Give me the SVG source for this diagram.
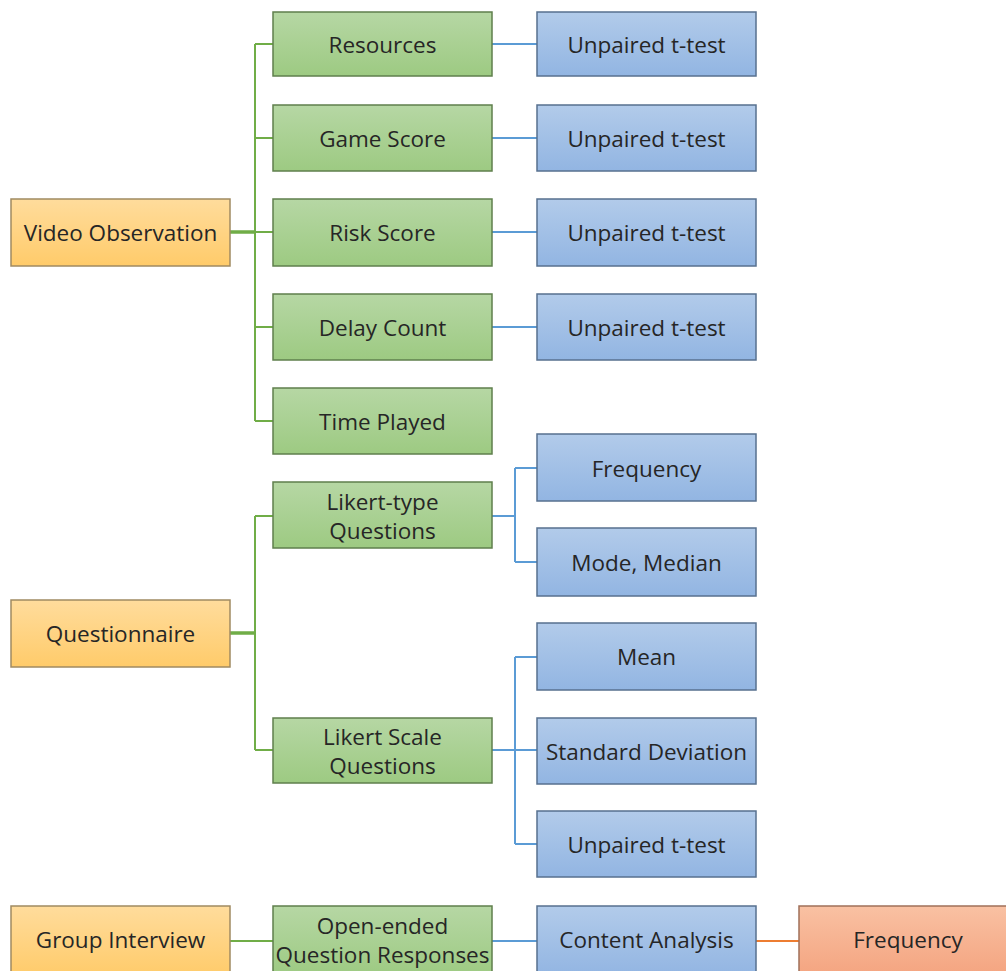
<svg xmlns="http://www.w3.org/2000/svg" width="1006" height="971" viewBox="0 0 1006 971">
<defs>
<linearGradient id="gO" x1="0" y1="0" x2="0" y2="1"><stop offset="0" stop-color="#ffdc9c"/><stop offset="1" stop-color="#ffcb6a"/></linearGradient>
<linearGradient id="gG" x1="0" y1="0" x2="0" y2="1"><stop offset="0" stop-color="#b6d7a4"/><stop offset="1" stop-color="#9dca82"/></linearGradient>
<linearGradient id="gB" x1="0" y1="0" x2="0" y2="1"><stop offset="0" stop-color="#b2cbea"/><stop offset="1" stop-color="#92b5e2"/></linearGradient>
<linearGradient id="gR" x1="0" y1="0" x2="0" y2="1"><stop offset="0" stop-color="#f9c1a3"/><stop offset="1" stop-color="#f4a480"/></linearGradient>
</defs>
<style>
.o{fill:url(#gO);stroke:#a08a62;stroke-width:1.5}
.g{fill:url(#gG);stroke:#5f7f4c;stroke-width:1.5}
.b{fill:url(#gB);stroke:#57708f;stroke-width:1.5}
.r{fill:url(#gR);stroke:#a0705a;stroke-width:1.5}
text{font-family:"Open Sans","Noto Sans",sans-serif;font-size:22.5px;fill:#262626;text-anchor:middle;dominant-baseline:central}
.lg{stroke:#70ad47;stroke-width:2;fill:none}
.lgt{stroke:#70ad47;stroke-width:3.5;fill:none}
.lb{stroke:#5b9bd5;stroke-width:2;fill:none}
.lo{stroke:#ed7d31;stroke-width:2;fill:none}
</style>
<rect width="1006" height="971" fill="#fff"/>
<g id="connectors">
<path class="lgt" d="M230 232H255M230 633H255"/>
<path class="lg" d="M255 44V421M255 44H273M255 138H273M255 232H273M255 327H273M255 421H273"/>
<path class="lg" d="M255 516V750M255 516H273M255 750H273"/>
<path class="lg" d="M230 941H273"/>
<path class="lb" d="M492 44H537M492 138H537M492 232H537M492 327H537"/>
<path class="lb" d="M492 516H515M515 468V562M515 468H537M515 562H537"/>
<path class="lb" d="M492 750H537M515 657V844M515 657H537M515 844H537"/>
<path class="lb" d="M492 941H537"/>
<path class="lo" d="M756 941H799"/>
</g>
<g id="video-observation"><rect class="o" x="11" y="199" width="219" height="67"/><text x="120.5" y="232.5">Video Observation</text></g>
<g id="questionnaire"><rect class="o" x="11" y="600" width="219" height="67"/><text x="120.5" y="633.5">Questionnaire</text></g>
<g id="group-interview"><rect class="o" x="11" y="906" width="219" height="70"/><text x="120.5" y="939">Group Interview</text></g>
<g id="resources"><rect class="g" x="273" y="12" width="219" height="64"/><text x="382.5" y="44">Resources</text></g>
<g id="game-score"><rect class="g" x="273" y="105" width="219" height="66"/><text x="382.5" y="138">Game Score</text></g>
<g id="risk-score"><rect class="g" x="273" y="199" width="219" height="67"/><text x="382.5" y="232.5">Risk Score</text></g>
<g id="delay-count"><rect class="g" x="273" y="294" width="219" height="66"/><text x="382.5" y="327">Delay Count</text></g>
<g id="time-played"><rect class="g" x="273" y="388" width="219" height="66"/><text x="382.5" y="421">Time Played</text></g>
<g id="likert-type"><rect class="g" x="273" y="482" width="219" height="66"/><text x="382.5" y="501">Likert-type</text><text x="382.5" y="530">Questions</text></g>
<g id="likert-scale"><rect class="g" x="273" y="718" width="219" height="65"/><text x="382.5" y="736">Likert Scale</text><text x="382.5" y="765">Questions</text></g>
<g id="open-ended"><rect class="g" x="273" y="906" width="219" height="70"/><text x="382.5" y="925">Open-ended</text><text x="382.5" y="954">Question Responses</text></g>
<g id="ttest-1"><rect class="b" x="537" y="12" width="219" height="64"/><text x="646.5" y="44">Unpaired t-test</text></g>
<g id="ttest-2"><rect class="b" x="537" y="105" width="219" height="66"/><text x="646.5" y="138">Unpaired t-test</text></g>
<g id="ttest-3"><rect class="b" x="537" y="199" width="219" height="67"/><text x="646.5" y="232.5">Unpaired t-test</text></g>
<g id="ttest-4"><rect class="b" x="537" y="294" width="219" height="66"/><text x="646.5" y="327">Unpaired t-test</text></g>
<g id="frequency-1"><rect class="b" x="537" y="434" width="219" height="67"/><text x="646.5" y="468">Frequency</text></g>
<g id="mode-median"><rect class="b" x="537" y="528" width="219" height="68"/><text x="646.5" y="562">Mode, Median</text></g>
<g id="mean"><rect class="b" x="537" y="623" width="219" height="67"/><text x="646.5" y="656.5">Mean</text></g>
<g id="std-dev"><rect class="b" x="537" y="718" width="219" height="66"/><text x="646.5" y="751">Standard Deviation</text></g>
<g id="ttest-5"><rect class="b" x="537" y="811" width="219" height="66"/><text x="646.5" y="844">Unpaired t-test</text></g>
<g id="content-analysis"><rect class="b" x="537" y="906" width="219" height="70"/><text x="646.5" y="939">Content  Analysis</text></g>
<g id="frequency-2"><rect class="r" x="799" y="906" width="215" height="70"/><text x="908" y="939">Frequency</text></g>
</svg>
